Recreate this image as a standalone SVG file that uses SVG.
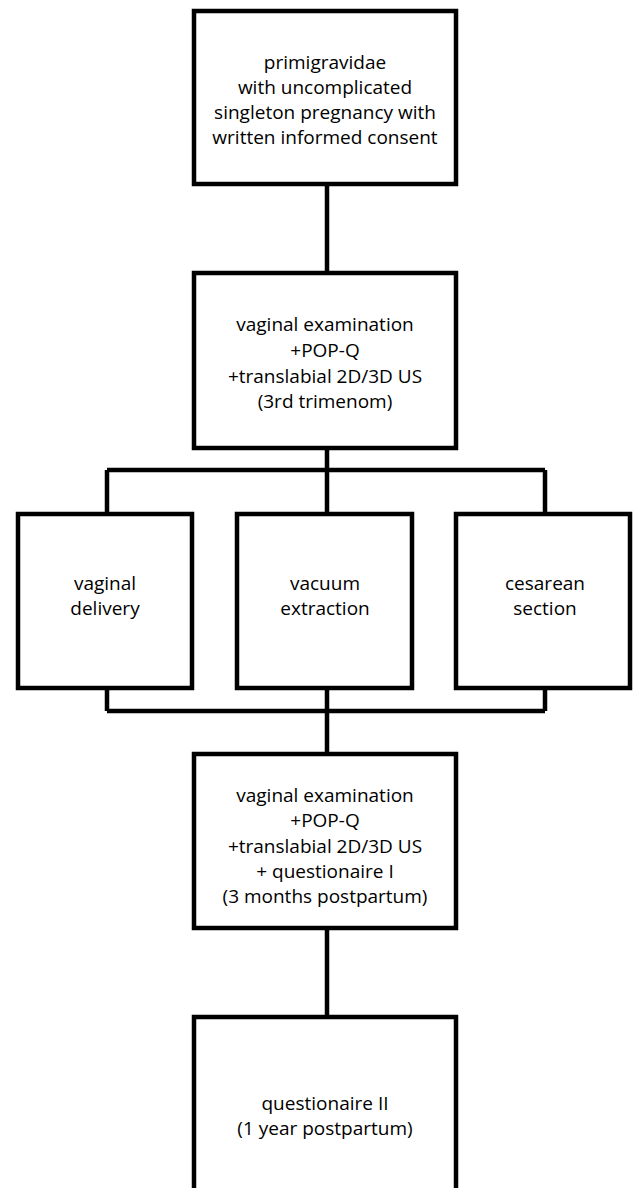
<svg xmlns="http://www.w3.org/2000/svg" width="633" height="1188" viewBox="0 0 633 1188">
<style>
.box{fill:#fff;stroke:#000;stroke-width:4.5}
.con{fill:none;stroke:#000;stroke-width:4.5}
text{font-family:"Open Sans","Liberation Sans",sans-serif;font-size:19px;fill:#000;text-anchor:middle}
</style>
<rect width="633" height="1188" fill="#fff"/>
<g id="connectors">
<path class="con" d="M327 184V273"/>
<path class="con" d="M327 448V470M107 470H545M107 470V514M327 470V514M545 470V514"/>
<path class="con" d="M107 688V711M327 688V711M545 688V711M107 711H545M327 711V754"/>
<path class="con" d="M327 928V1017"/>
</g>
<g id="n1"><rect class="box" x="194" y="11" width="262" height="173"/>
<text x="325" y="69">primigravidae</text><text x="325" y="94">with uncomplicated</text><text x="325" y="119">singleton pregnancy with</text><text x="325" y="144">written informed consent</text></g>
<g id="n2"><rect class="box" x="194" y="273" width="262" height="175"/>
<text x="325" y="331">vaginal examination</text><text x="325" y="357">+POP-Q</text><text x="325" y="383">+translabial 2D/3D US</text><text x="325" y="408">(3rd trimenom)</text></g>
<g id="n3a"><rect class="box" x="18" y="514" width="174" height="174"/>
<text x="105" y="590">vaginal</text><text x="105" y="615">delivery</text></g>
<g id="n3b"><rect class="box" x="237" y="514" width="175" height="174"/>
<text x="325" y="590">vacuum</text><text x="325" y="615">extraction</text></g>
<g id="n3c"><rect class="box" x="456" y="514" width="174" height="174"/>
<text x="545" y="590">cesarean</text><text x="545" y="615">section</text></g>
<g id="n4"><rect class="box" x="194" y="754" width="262" height="174"/>
<text x="325" y="802">vaginal examination</text><text x="325" y="827">+POP-Q</text><text x="325" y="853">+translabial 2D/3D US</text><text x="325" y="878">+ questionaire I</text><text x="325" y="903">(3 months postpartum)</text></g>
<g id="n5"><rect class="box" x="194" y="1017" width="262" height="200"/>
<text x="325" y="1110">questionaire II</text><text x="325" y="1135">(1 year postpartum)</text></g>
</svg>
